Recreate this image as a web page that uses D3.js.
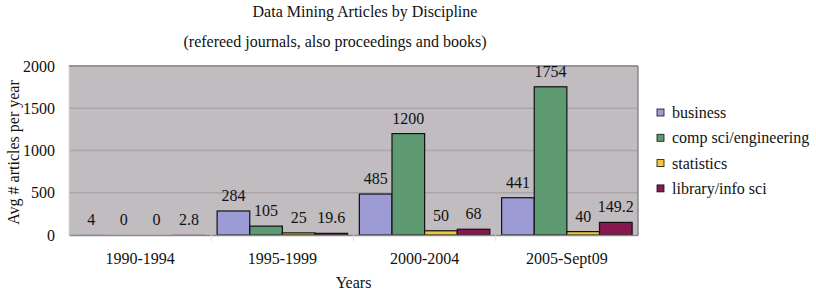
<!DOCTYPE html>
<html><head><meta charset="utf-8">
<script src="https://cdn.jsdelivr.net/npm/d3@7"></script>
<style>body{margin:0;background:#fff}svg{display:block}text{font-family:"Liberation Serif","Times New Roman",serif;fill:#111}</style>
</head><body><svg id="c" width="816" height="290"></svg>
<script>
const categories = ["1990-1994","1995-1999","2000-2004","2005-Sept09"];
const seriesNames = ["business","comp sci/engineering","statistics","library/info sci"];
const business = [4,284,485,441];
const compsci = [0,105,1200,1754];
const statistics = [0,25,50,40];
const library = [2.8,19.6,68,149.2];
const labels = [["4","284","485","441"],["0","105","1200","1754"],["0","25","50","40"],["2.8","19.6","68","149.2"]];
const yTicks = [0,500,1000,1500,2000];
const colors = ["#9d9bd3","#5d9a72","#f0c93a","#86184f"];
const series = [business, compsci, statistics, library];

const FS = "16px";
const svg = d3.select("#c");
const m = {l:69, r:638, t:66, b:235};
const x = d3.scaleBand().domain(categories).range([m.l, m.r]).paddingInner(0).paddingOuter(0);
const x1 = d3.scaleBand().domain(seriesNames).range([0, x.bandwidth()]).paddingOuter(0.18).paddingInner(0);
const y = d3.scaleLinear().domain([0,2000]).range([m.b, m.t]);

svg.append("rect").attr("x",m.l).attr("y",m.t).attr("width",m.r-m.l).attr("height",m.b-m.t).attr("fill","#c0bcc0");
svg.append("g").selectAll("line").data(yTicks.slice(1)).join("line")
  .attr("x1",m.l).attr("x2",m.r).attr("y1",d=>y(d)).attr("y2",d=>y(d)).attr("stroke","#a9a5a9").attr("stroke-width",1.5);
svg.append("line").attr("x1",m.l).attr("x2",m.l).attr("y1",m.t).attr("y2",m.b).attr("stroke","#d8d8d8");
svg.append("line").attr("x1",m.r).attr("x2",m.r).attr("y1",m.t).attr("y2",m.b).attr("stroke","#8a8a8a").attr("stroke-width",1.5);
svg.append("line").attr("x1",m.l).attr("x2",m.r).attr("y1",m.t).attr("y2",m.t).attr("stroke","#8a8a8a").attr("stroke-width",1.5);

// y axis
const ya = svg.append("g").attr("transform",`translate(${m.l},0)`).call(d3.axisLeft(y).tickValues(yTicks).tickSize(0).tickPadding(14).tickFormat(d3.format("d")));
ya.select(".domain").remove();
ya.selectAll("text").style("font-size",FS).style("font-family","Liberation Serif").attr("fill","#111");

// bars
series.forEach((s,i)=>{
  svg.append("g").selectAll("rect").data(s).join("rect")
    .attr("x",(d,j)=>x(categories[j])+x1(seriesNames[i]))
    .attr("y",d=>y(d)).attr("width",x1.bandwidth()).attr("height",d=>y(0)-y(d))
    .attr("fill",colors[i]).attr("stroke","#111").attr("stroke-width",d=>(y(0)-y(d))<1?0:1.2);
  svg.append("g").selectAll("text").data(s).join("text")
    .attr("x",(d,j)=>x(categories[j])+x1(seriesNames[i])+x1.bandwidth()/2)
    .attr("y",d=>y(d)-10).attr("text-anchor","middle").style("font-size",FS)
    .text((d,j)=>labels[i][j]);
});

// x axis
const xa = svg.append("g").attr("transform",`translate(0,${m.b})`).call(d3.axisBottom(x).tickSize(0).tickPadding(18));
xa.select(".domain").attr("stroke","#8a8a8a").attr("stroke-width",1.5);
xa.selectAll("text").style("font-size",FS).style("font-family","Liberation Serif").attr("fill","#111");
svg.append("g").selectAll("line").data(categories.slice(1)).join("line")
  .attr("x1",d=>x(d)).attr("x2",d=>x(d)).attr("y1",m.b).attr("y2",m.b+6).attr("stroke","#ddd");

svg.append("text").attr("x",(m.l+m.r)/2).attr("y",288).attr("text-anchor","middle").style("font-size",FS).text("Years");
svg.append("text").attr("transform",`translate(19,${(m.t+m.b)/2+2}) rotate(-90)`).attr("text-anchor","middle").style("font-size",FS).text("Avg # articles per year");

svg.append("text").attr("x",365).attr("y",17).attr("text-anchor","middle").style("font-size",FS).text("Data Mining Articles by Discipline");
svg.append("text").attr("x",335).attr("y",47).attr("text-anchor","middle").style("font-size",FS).text("(refereed journals, also proceedings and books)");

// legend
const lg = svg.append("g");
seriesNames.forEach((n,i)=>{
  const yy = 113 + i*25.3;
  lg.append("rect").attr("x",657).attr("y",yy-4).attr("width",7).attr("height",7).attr("fill",colors[i]).attr("stroke","#111").attr("stroke-width",0.8);
  lg.append("text").attr("x",672).attr("y",yy+5).style("font-size",FS).text(n);
});
</script></body></html>
